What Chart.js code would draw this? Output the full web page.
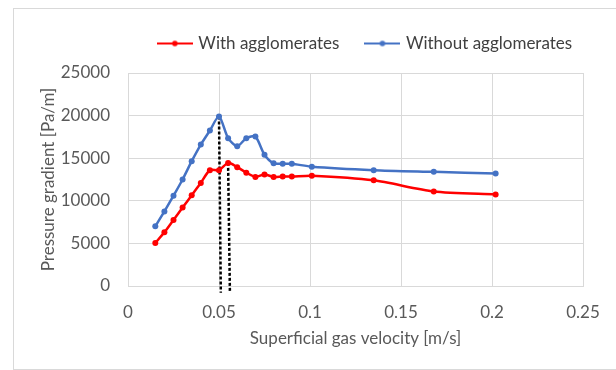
<!DOCTYPE html>
<html>
<head>
<meta charset="utf-8">
<script src="https://cdn.jsdelivr.net/npm/chart.js@4/dist/chart.umd.min.js"></script>
<style>
  html, body { margin: 0; padding: 0; background: #fff; }
  #wrap { position: relative; width: 616px; height: 370px; overflow: hidden; }
  #frame { position: absolute; left: 13px; top: 8px; width: 700px; height: 360px;
           border: 1px solid #d9d9d9; border-right: none; }
  #chart { position: absolute; left: 0; top: 0; }
</style>
</head>
<body>
<div id="wrap">
  <div id="frame"></div>
  <canvas id="chart" width="616" height="370"></canvas>
</div>
<script>
// Superficial gas velocity [m/s]
const velocity = [0.015, 0.02, 0.025, 0.03, 0.035, 0.04, 0.045, 0.05, 0.055, 0.06,
                  0.065, 0.07, 0.075, 0.08, 0.085, 0.09, 0.101, 0.135, 0.168, 0.202];

// Pressure gradient [Pa/m]
const withAgglomerates = [5050, 6300, 7750, 9200, 10650, 12100, 13600, 13600, 14450, 13950,
                          13300, 12800, 13100, 12800, 12850, 12850, 12950, 12400, 11100, 10750];
const withoutAgglomerates = [7000, 8750, 10600, 12500, 14650, 16600, 18250, 19900, 17350, 16400,
                             17350, 17550, 15400, 14400, 14350, 14350, 14000, 13600, 13400, 13200];

// dashed guide lines from the two peaks down to the axis
const guideBlue = [[0.05, 19900], [0.051, -800]];
const guideRed = [[0.055, 14450], [0.056, -800]];

const xTickLabels = ['0', '0.05', '0.1', '0.15', '0.2', '0.25'];
const yTickLabels = ['0', '5000', '10000', '15000', '20000', '25000'];

const toPoints = (xs, ys) => xs.map((x, i) => ({ x: x, y: ys[i] }));
const pairPoints = arr => arr.map(p => ({ x: p[0], y: p[1] }));

// legend marker: short line with a dot in the middle
function legendMarker(color) {
  const c = document.createElement('canvas');
  c.width = 36;
  c.height = 10;
  const g = c.getContext('2d');
  g.strokeStyle = color;
  g.lineWidth = 2;
  g.beginPath();
  g.moveTo(0, 5);
  g.lineTo(36, 5);
  g.stroke();
  g.fillStyle = color;
  g.beginPath();
  g.arc(18, 5, 2.8, 0, Math.PI * 2);
  g.fill();
  return c;
}

// Excel centres the legend on the whole frame, not on the plot;
// it also sits a little higher than Chart.js would put it
const legendShift = {
  id: 'legendShift',
  afterLayout(chart) {
    const lg = chart.legend;
    if (!lg) return;
    const dx = 366 - (lg.left + lg.right) / 2;
    lg.left += dx;
    lg.right += dx;
    lg.top -= 11;
    lg.bottom -= 11;
  }
};

const textColor = '#595959';
const gridColor = '#d9d9d9';
const fontFamily = 'Lato, "Open Sans", sans-serif';

new Chart(document.getElementById('chart'), {
  type: 'line',
  data: {
    datasets: [
      {
        label: 'With agglomerates',
        data: toPoints(velocity, withAgglomerates),
        borderColor: '#ff0000',
        backgroundColor: '#ff0000',
        borderWidth: 2.5,
        pointRadius: 3,
        pointBorderWidth: 0,
        pointHoverRadius: 3,
        tension: 0.25
      },
      {
        label: 'Without agglomerates',
        data: toPoints(velocity, withoutAgglomerates),
        borderColor: '#4472c4',
        backgroundColor: '#4472c4',
        borderWidth: 2.5,
        pointRadius: 3,
        pointBorderWidth: 0,
        pointHoverRadius: 3,
        tension: 0.25
      },
      {
        label: 'guide1',
        data: pairPoints(guideBlue),
        borderColor: '#000',
        borderWidth: 2.5,
        borderDash: [3, 2],
        pointRadius: 0,
        clip: false
      },
      {
        label: 'guide2',
        data: pairPoints(guideRed),
        borderColor: '#000',
        borderWidth: 2.5,
        borderDash: [3, 2],
        pointRadius: 0,
        clip: false
      }
    ]
  },
  options: {
    responsive: false,
    animation: false,
    layout: { padding: { left: 14, right: 33, top: 18, bottom: 0 } },
    plugins: {
      tooltip: { enabled: false },
      legend: {
        display: true,
        position: 'top',
        labels: {
          usePointStyle: true,
          pointStyleWidth: 30,
          padding: 28,
          color: '#404040',
          font: { family: fontFamily, size: 17 },
          generateLabels: chart => {
            const items = Chart.defaults.plugins.legend.labels.generateLabels(chart);
            return items
              .filter(item => item.datasetIndex < 2)
              .map(item => {
                item.pointStyle = legendMarker(chart.data.datasets[item.datasetIndex].borderColor);
                return item;
              });
          }
        }
      }
    },
    scales: {
      x: {
        type: 'linear',
        min: 0,
        max: 0.25,
        afterFit: s => { s.height = 84; },
        ticks: {
          stepSize: 0.05,
          padding: 16,
          color: textColor,
          font: { family: fontFamily, size: 17 },
          callback: (v, i) => xTickLabels[i]
        },
        grid: { color: gridColor, drawTicks: false },
        border: { color: gridColor },
        title: {
          display: true,
          text: 'Superficial gas velocity [m/s]',
          color: textColor,
          font: { family: fontFamily, size: 17 },
          padding: { top: 21, bottom: 21 }
        }
      },
      y: {
        min: 0,
        max: 25000,
        afterFit: s => { s.width = 114; },
        ticks: {
          stepSize: 5000,
          padding: 18,
          color: textColor,
          font: { family: fontFamily, size: 17 },
          callback: (v, i) => yTickLabels[i]
        },
        grid: { color: gridColor, drawTicks: false },
        border: { color: gridColor },
        title: {
          display: true,
          text: 'Pressure gradient [Pa/m]',
          color: textColor,
          font: { family: fontFamily, size: 17 },
          padding: { top: 24, bottom: 24 }
        }
      }
    }
  },
  plugins: [legendShift]
});
</script>
</body>
</html>
